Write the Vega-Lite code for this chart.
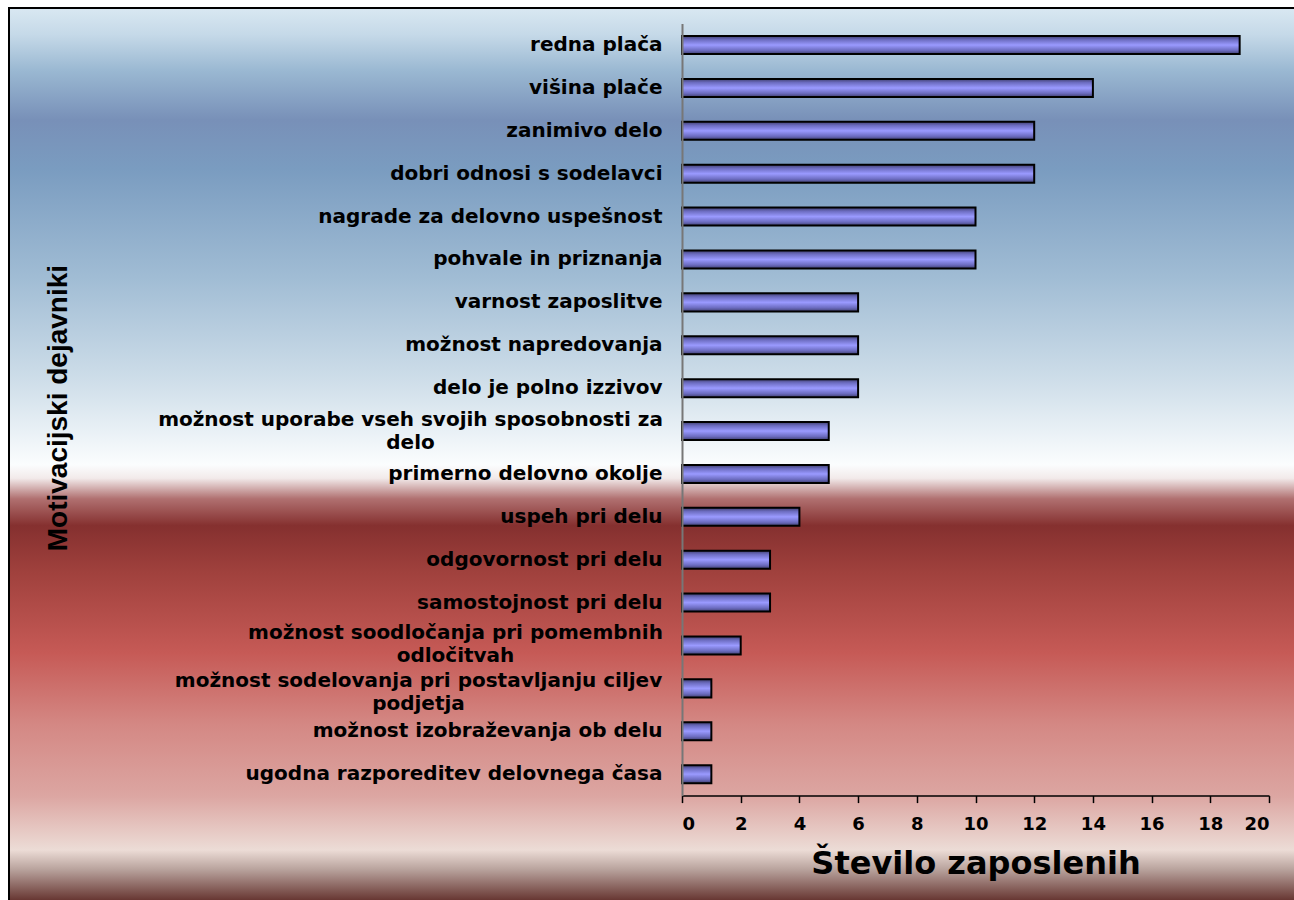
{
  "$schema": "https://vega.github.io/schema/vega-lite/v6.json",
  "autosize": "none",
  "width": 587,
  "height": 772,
  "padding": {"left": 682, "top": 23.6, "right": 25, "bottom": 104.4},
  "background": "white",
  "config": {"view": {"stroke": null}},
  "resolve": {"scale": {"y": "independent"}, "axis": {"y": "independent"}},
  "layer": [
    {
      "data": {"values": [{"part": "background"}]},
      "mark": {
        "type": "rect",
        "clip": false,
        "stroke": "black",
        "strokeWidth": 2,
        "fill": {
          "gradient": "linear",
          "x1": 0, "y1": 0, "x2": 0, "y2": 1,
          "stops": [
            {"offset": 0, "color": "#d9e8f2"},
            {"offset": 0.03, "color": "#c5d9e8"},
            {"offset": 0.07, "color": "#9ab8d2"},
            {"offset": 0.125, "color": "#7890b8"},
            {"offset": 0.18, "color": "#7a9cc0"},
            {"offset": 0.3, "color": "#a0bcd4"},
            {"offset": 0.42, "color": "#d0dfea"},
            {"offset": 0.51, "color": "#fbfdfe"},
            {"offset": 0.525, "color": "#f2eaea"},
            {"offset": 0.548, "color": "#b07070"},
            {"offset": 0.578, "color": "#85302f"},
            {"offset": 0.63, "color": "#a0413d"},
            {"offset": 0.72, "color": "#c65a56"},
            {"offset": 0.8, "color": "#d48884"},
            {"offset": 0.88, "color": "#dca6a2"},
            {"offset": 0.94, "color": "#ecdcd6"},
            {"offset": 0.962, "color": "#b8a29c"},
            {"offset": 1, "color": "#5e2a26"}
          ]
        }
      },
      "encoding": {
        "x": {"datum": -22.93, "type": "quantitative", "scale": {"domain": [0, 20], "nice": false, "zero": false}},
        "x2": {"datum": 20.95},
        "y": {"datum": 1.0202, "type": "quantitative", "scale": {"domain": [0, 1], "nice": false}, "axis": null},
        "y2": {"datum": -0.14}
      }
    },
    {
      "data": {
        "values": [
          {"dejavnik": "redna plača", "stevilo": 19},
          {"dejavnik": "višina plače", "stevilo": 14},
          {"dejavnik": "zanimivo delo", "stevilo": 12},
          {"dejavnik": "dobri odnosi s sodelavci", "stevilo": 12},
          {"dejavnik": "nagrade za delovno uspešnost", "stevilo": 10},
          {"dejavnik": "pohvale in priznanja", "stevilo": 10},
          {"dejavnik": "varnost zaposlitve", "stevilo": 6},
          {"dejavnik": "možnost napredovanja", "stevilo": 6},
          {"dejavnik": "delo je polno izzivov", "stevilo": 6},
          {"dejavnik": "možnost uporabe vseh svojih sposobnosti za\ndelo", "stevilo": 5},
          {"dejavnik": "primerno delovno okolje", "stevilo": 5},
          {"dejavnik": "uspeh pri delu", "stevilo": 4},
          {"dejavnik": "odgovornost pri delu", "stevilo": 3},
          {"dejavnik": "samostojnost pri delu", "stevilo": 3},
          {"dejavnik": "možnost soodločanja pri pomembnih\nodločitvah", "stevilo": 2},
          {"dejavnik": "možnost sodelovanja pri postavljanju ciljev\npodjetja", "stevilo": 1},
          {"dejavnik": "možnost izobraževanja ob delu", "stevilo": 1},
          {"dejavnik": "ugodna razporeditev delovnega časa", "stevilo": 1}
        ]
      },
      "mark": {
        "type": "bar",
        "stroke": "black",
        "strokeWidth": 2,
        "fill": {
          "gradient": "linear",
          "x1": 0, "y1": 0, "x2": 0, "y2": 1,
          "stops": [
            {"offset": 0, "color": "#404070"},
            {"offset": 0.2, "color": "#6c6cc0"},
            {"offset": 0.5, "color": "#9a9aff"},
            {"offset": 0.8, "color": "#6c6cc0"},
            {"offset": 1, "color": "#404070"}
          ]
        }
      },
      "encoding": {
        "x": {
          "field": "stevilo",
          "type": "quantitative",
          "scale": {"domain": [0, 20], "nice": false, "zero": false},
          "axis": {
            "zindex": 1,
            "values": [0, 2, 4, 6, 8, 10, 12, 14, 16, 18, 20],
            "grid": false,
            "domainColor": "black",
            "domainWidth": 1.5,
            "tickColor": "black",
            "tickWidth": 1.5,
            "tickSize": 7,
            "labelFont": "DejaVu Sans",
            "labelFontWeight": "bold",
            "labelFontSize": 18,
            "labelColor": "black",
            "labelPadding": 13,
            "title": "Število zaposlenih",
            "titleFont": "DejaVu Sans",
            "titleFontWeight": "bold",
            "titleFontSize": 32,
            "titleColor": "black",
            "titleX": 293.5,
            "titleY": 77.6,
            "titleAlign": "center",
            "titleBaseline": "alphabetic"
          }
        },
        "y": {
          "field": "dejavnik",
          "type": "nominal",
          "sort": null,
          "scale": {"paddingInner": 0.58, "paddingOuter": 0.29},
          "axis": {
            "zindex": 1,
            "ticks": false,
            "tickSize": 0,
            "grid": false,
            "domainColor": "#777777",
            "domainWidth": 2,
            "labelExpr": "split(datum.value, '\\n')",
            "labelFont": "DejaVu Sans",
            "labelFontWeight": "bold",
            "labelFontSize": 20,
            "labelColor": "black",
            "labelLimit": 800,
            "labelLineHeight": 23,
            "labelBaseline": "middle",
            "labelAlign": {"condition": {"test": "indexof(datum.value, '\\n') >= 0", "value": "center"}, "value": "right"},
            "labelOffset": {
              "condition": [
                {"test": "indexof(datum.value, 'sposobnosti') >= 0", "value": -11.5},
                {"test": "indexof(datum.value, 'soodločanja') >= 0", "value": -12.5},
                {"test": "indexof(datum.value, 'postavljanju') >= 0", "value": -7}
              ],
              "value": 0
            },
            "labelPadding": {
              "condition": [
                {"test": "indexof(datum.value, 'sposobnosti') >= 0", "value": 272},
                {"test": "indexof(datum.value, 'soodločanja') >= 0", "value": 227},
                {"test": "indexof(datum.value, 'postavljanju') >= 0", "value": 264}
              ],
              "value": 20
            },
            "title": "Motivacijski dejavniki",
            "titleFont": "Liberation Sans",
            "titleFontWeight": "bold",
            "titleFontSize": 28,
            "titleColor": "black",
            "titleAngle": 270,
            "titleX": -624,
            "titleY": 384,
            "titleAlign": "center",
            "titleBaseline": "middle"
          }
        }
      }
    }
  ]
}
